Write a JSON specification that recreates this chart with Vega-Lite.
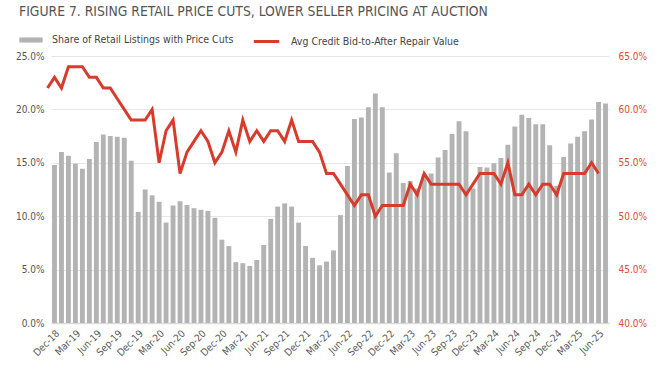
{
  "$schema": "https://vega.github.io/schema/vega-lite/v6.json",
  "width": 558,
  "height": 267,
  "autosize": {"type": "none"},
  "padding": {"left": 51, "top": 56, "right": 57, "bottom": 60},
  "background": "#ffffff",
  "config": {
    "view": {"stroke": null},
    "font": "DejaVu Sans Condensed, Roboto, sans-serif",
    "axis": {"labelFont": "DejaVu Sans Condensed, Roboto, sans-serif"},
    "legend": {"labelFont": "DejaVu Sans Condensed, Roboto, sans-serif"}
  },
  "title": {
    "text": "FIGURE 7. RISING RETAIL PRICE CUTS, LOWER SELLER PRICING AT AUCTION",
    "anchor": "start",
    "frame": "group",
    "dx": -32,
    "offset": 8,
    "fontSize": 13.8,
    "fontWeight": "normal",
    "color": "#555555",
    "font": "DejaVu Sans Condensed, Roboto, sans-serif"
  },
  "data": {
    "values": [
      {"m": "Dec-18", "share": 14.8, "bid": 62},
      {"m": "Jan-19", "share": 16.0, "bid": 63},
      {"m": "Feb-19", "share": 15.65, "bid": 62},
      {"m": "Mar-19", "share": 14.9, "bid": 64},
      {"m": "Apr-19", "share": 14.45, "bid": 64},
      {"m": "May-19", "share": 15.35, "bid": 64},
      {"m": "Jun-19", "share": 16.95, "bid": 63},
      {"m": "Jul-19", "share": 17.65, "bid": 63},
      {"m": "Aug-19", "share": 17.5, "bid": 62},
      {"m": "Sep-19", "share": 17.45, "bid": 62},
      {"m": "Oct-19", "share": 17.35, "bid": 61},
      {"m": "Nov-19", "share": 15.2, "bid": 60},
      {"m": "Dec-19", "share": 10.4, "bid": 59},
      {"m": "Jan-20", "share": 12.5, "bid": 59},
      {"m": "Feb-20", "share": 11.95, "bid": 59},
      {"m": "Mar-20", "share": 11.35, "bid": 60},
      {"m": "Apr-20", "share": 9.4, "bid": 55},
      {"m": "May-20", "share": 11.0, "bid": 58},
      {"m": "Jun-20", "share": 11.4, "bid": 59},
      {"m": "Jul-20", "share": 11.05, "bid": 54},
      {"m": "Aug-20", "share": 10.75, "bid": 56},
      {"m": "Sep-20", "share": 10.6, "bid": 57},
      {"m": "Oct-20", "share": 10.5, "bid": 58},
      {"m": "Nov-20", "share": 9.85, "bid": 57},
      {"m": "Dec-20", "share": 7.8, "bid": 55},
      {"m": "Jan-21", "share": 7.2, "bid": 56},
      {"m": "Feb-21", "share": 5.7, "bid": 58},
      {"m": "Mar-21", "share": 5.6, "bid": 56},
      {"m": "Apr-21", "share": 5.35, "bid": 59},
      {"m": "May-21", "share": 5.9, "bid": 57},
      {"m": "Jun-21", "share": 7.3, "bid": 58},
      {"m": "Jul-21", "share": 9.75, "bid": 57},
      {"m": "Aug-21", "share": 10.9, "bid": 58},
      {"m": "Sep-21", "share": 11.2, "bid": 58},
      {"m": "Oct-21", "share": 10.9, "bid": 57},
      {"m": "Nov-21", "share": 9.4, "bid": 59},
      {"m": "Dec-21", "share": 7.2, "bid": 57},
      {"m": "Jan-22", "share": 6.1, "bid": 57},
      {"m": "Feb-22", "share": 5.4, "bid": 57},
      {"m": "Mar-22", "share": 5.75, "bid": 56},
      {"m": "Apr-22", "share": 6.8, "bid": 54},
      {"m": "May-22", "share": 10.1, "bid": 54},
      {"m": "Jun-22", "share": 14.7, "bid": 53},
      {"m": "Jul-22", "share": 19.1, "bid": 52},
      {"m": "Aug-22", "share": 19.25, "bid": 51},
      {"m": "Sep-22", "share": 20.2, "bid": 52},
      {"m": "Oct-22", "share": 21.5, "bid": 52},
      {"m": "Nov-22", "share": 20.2, "bid": 50},
      {"m": "Dec-22", "share": 14.1, "bid": 51},
      {"m": "Jan-23", "share": 15.9, "bid": 51},
      {"m": "Feb-23", "share": 13.1, "bid": 51},
      {"m": "Mar-23", "share": 13.3, "bid": 51},
      {"m": "Apr-23", "share": 12.6, "bid": 53},
      {"m": "May-23", "share": 13.9, "bid": 52},
      {"m": "Jun-23", "share": 14.0, "bid": 54},
      {"m": "Jul-23", "share": 15.5, "bid": 53},
      {"m": "Aug-23", "share": 16.2, "bid": 53},
      {"m": "Sep-23", "share": 17.7, "bid": 53},
      {"m": "Oct-23", "share": 18.9, "bid": 53},
      {"m": "Nov-23", "share": 17.95, "bid": 53},
      {"m": "Dec-23", "share": 12.6, "bid": 52},
      {"m": "Jan-24", "share": 14.6, "bid": 53},
      {"m": "Feb-24", "share": 14.55, "bid": 54},
      {"m": "Mar-24", "share": 14.95, "bid": 54},
      {"m": "Apr-24", "share": 15.45, "bid": 54},
      {"m": "May-24", "share": 16.7, "bid": 53},
      {"m": "Jun-24", "share": 18.4, "bid": 55},
      {"m": "Jul-24", "share": 19.5, "bid": 52},
      {"m": "Aug-24", "share": 19.2, "bid": 52},
      {"m": "Sep-24", "share": 18.6, "bid": 53},
      {"m": "Oct-24", "share": 18.6, "bid": 52},
      {"m": "Nov-24", "share": 16.65, "bid": 53},
      {"m": "Dec-24", "share": 12.85, "bid": 53},
      {"m": "Jan-25", "share": 15.55, "bid": 52},
      {"m": "Feb-25", "share": 16.8, "bid": 54},
      {"m": "Mar-25", "share": 17.45, "bid": 54},
      {"m": "Apr-25", "share": 17.95, "bid": 54},
      {"m": "May-25", "share": 19.05, "bid": 54},
      {"m": "Jun-25", "share": 20.7, "bid": 55},
      {"m": "Jul-25", "share": 20.55, "bid": 54}
    ]
  },
  "layer": [
    {
      "mark": {"type": "bar", "color": "#b3b3b3"},
      "encoding": {
        "x": {
          "field": "m",
          "type": "ordinal",
          "sort": null,
          "scale": {"paddingInner": 0.3, "paddingOuter": 0.15},
          "axis": {
            "title": null,
            "values": ["Dec-18", "Mar-19", "Jun-19", "Sep-19", "Dec-19", "Mar-20", "Jun-20", "Sep-20", "Dec-20", "Mar-21", "Jun-21", "Sep-21", "Dec-21", "Mar-22", "Jun-22", "Sep-22", "Dec-22", "Mar-23", "Jun-23", "Sep-23", "Dec-23", "Mar-24", "Jun-24", "Sep-24", "Dec-24", "Mar-25", "Jun-25"],
            "labelAngle": -45,
            "labelFontSize": 10,
            "labelColor": "#595959",
            "labelPadding": 5,
            "ticks": false,
            "grid": false,
            "domainColor": "#d9d9d9",
            "domainWidth": 1.5
          }
        },
        "y": {
          "field": "share",
          "type": "quantitative",
          "scale": {"domain": [0, 25]},
          "axis": {
            "title": null,
            "values": [0, 5, 10, 15, 20, 25],
            "labelExpr": "format(datum.value, '.1f') + '%'",
            "labelFontSize": 10,
            "labelColor": "#555555",
            "labelPadding": 7,
            "domain": false,
            "ticks": false,
            "grid": true,
            "gridColor": "#e6e6e6",
            "gridWidth": 1
          }
        },
        "fill": {
          "datum": "Share of Retail Listings with Price Cuts",
          "scale": {"range": ["#b3b3b3"]},
          "legend": {
            "orient": "none",
            "legendX": -32,
            "legendY": -28,
            "direction": "horizontal",
            "title": null,
            "symbolType": "M-1,-0.22H1V0.22H-1Z",
            "symbolSize": 543,
            "symbolStrokeWidth": 0,
            "labelFontSize": 10.5,
            "labelColor": "#444444",
            "labelOffset": 9,
            "padding": 0,
            "labelLimit": 400
          }
        }
      }
    },
    {
      "mark": {"type": "line", "strokeWidth": 3, "xOffset": -6.975},
      "encoding": {
        "x": {"field": "m", "type": "ordinal", "sort": null},
        "y": {
          "field": "bid",
          "type": "quantitative",
          "scale": {"domain": [40, 65]},
          "axis": {
            "orient": "right",
            "title": null,
            "values": [40, 45, 50, 55, 60, 65],
            "labelExpr": "format(datum.value, '.1f') + '%'",
            "labelFontSize": 10,
            "labelColor": "#dd4b30",
            "labelPadding": 9,
            "domain": false,
            "ticks": false,
            "grid": false
          }
        },
        "stroke": {
          "datum": "Avg Credit Bid-to-After Repair Value",
          "scale": {"range": ["#d63b2c"]},
          "legend": {
            "orient": "none",
            "legendX": 201,
            "legendY": -29,
            "direction": "horizontal",
            "title": null,
            "symbolType": "stroke",
            "symbolSize": 645,
            "symbolStrokeWidth": 3,
            "labelFontSize": 10.5,
            "labelColor": "#444444",
            "labelOffset": 10,
            "padding": 0,
            "labelLimit": 400
          }
        }
      }
    }
  ],
  "resolve": {"scale": {"y": "independent"}}
}
